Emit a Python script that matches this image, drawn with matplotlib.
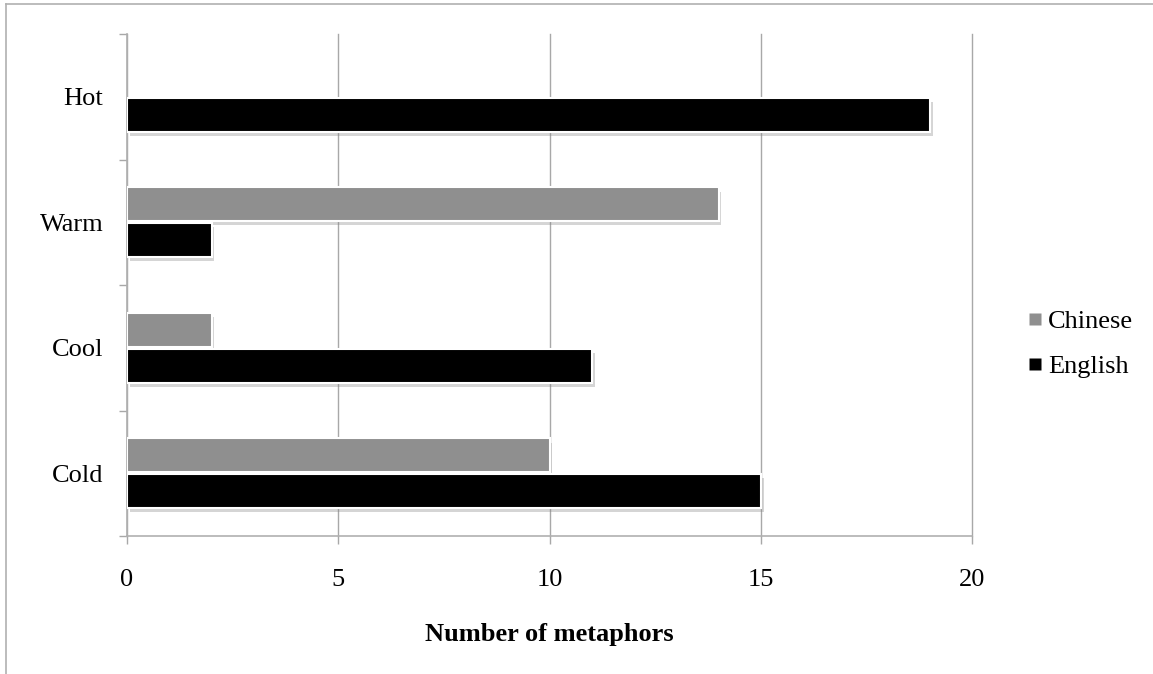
import matplotlib
matplotlib.use("Agg")
import matplotlib.pyplot as plt
import matplotlib.patheffects as pe
from matplotlib.lines import Line2D
from matplotlib.ticker import FixedLocator
import numpy as np

categories = ["Cold", "Cool", "Warm", "Hot"]
chinese = [10, 2, 14, 0]
english = [15, 11, 2, 19]
series_names = ["Chinese", "English"]
xticks = [0, 5, 10, 15, 20]
xlabel = "Number of metaphors"

plt.rcParams['font.family'] = ['Liberation Serif', 'DejaVu Serif']
FS = 19

fig = plt.figure(figsize=(11.53, 6.74), dpi=100)
ax = fig.add_axes([127/1153, 1-536/674, (972-127)/1153, (536-34)/674])

y = np.arange(len(categories))
h = 0.27
off = 0.143
shadow = [pe.SimplePatchShadow(offset=(2, -3), shadow_rgbFace='#888888', alpha=0.35), pe.Normal()]
b1 = ax.barh(y + off, chinese, height=h, color='#8F8F8F', edgecolor='white', linewidth=1.5, label=series_names[0], zorder=3)
b2 = ax.barh(y - off, english, height=h, color='black', edgecolor='white', linewidth=1.5, label=series_names[1], zorder=3)
for bars in (b1, b2):
    for r in bars:
        if r.get_width() > 0:
            r.set_path_effects(shadow)
        else:
            r.set_visible(False)

ax.set_xlim(0, 20)
ax.set_ylim(-0.5, len(categories) - 0.5)
ax.set_xticks(xticks)
ax.set_xticklabels([str(t) for t in xticks])
ax.set_yticks(y)
ax.set_yticklabels(categories)
ax.yaxis.set_minor_locator(FixedLocator(np.arange(-0.5, len(categories), 1.0)))

for s in ['top', 'right']:
    ax.spines[s].set_visible(False)
for s in ['left', 'bottom']:
    ax.spines[s].set_color('#B0B0B0')
    ax.spines[s].set_linewidth(1.2)

ax.grid(axis='x', color='#A8A8A8', linewidth=1.0, zorder=0)
for gl in ax.get_xgridlines():
    gl.set_clip_on(False)
ax.set_axisbelow(True)
ax.tick_params(axis='x', which='major', length=5.5, width=1.0, color='#A8A8A8', labelsize=FS, pad=18, labelcolor='black')
ax.tick_params(axis='y', which='major', length=0, labelsize=FS, pad=17)
ax.tick_params(axis='y', which='minor', length=6, width=1.0, color='#A8A8A8')

ax.set_xlabel(xlabel, fontsize=FS, fontweight='bold', labelpad=23)

handles = [Line2D([0], [0], marker='s', linestyle='none', markersize=8, markerfacecolor=c, markeredgecolor='none')
           for c in ['#8F8F8F', 'black']]
fig.legend(handles, series_names, loc='center left', bbox_to_anchor=(1003/1153, 1-344/674),
           frameon=False, fontsize=FS, handlelength=0.6, handletextpad=0.2, labelspacing=0.8)

# outer chart border (top and left visible)
fig.add_artist(Line2D([6/1153, 6/1153], [0, 1-4/674], color='#B0B0B0', linewidth=1.2, transform=fig.transFigure))
fig.add_artist(Line2D([6/1153, 1], [1-4/674, 1-4/674], color='#B0B0B0', linewidth=1.2, transform=fig.transFigure))

fig.savefig("out.png", dpi=100)
